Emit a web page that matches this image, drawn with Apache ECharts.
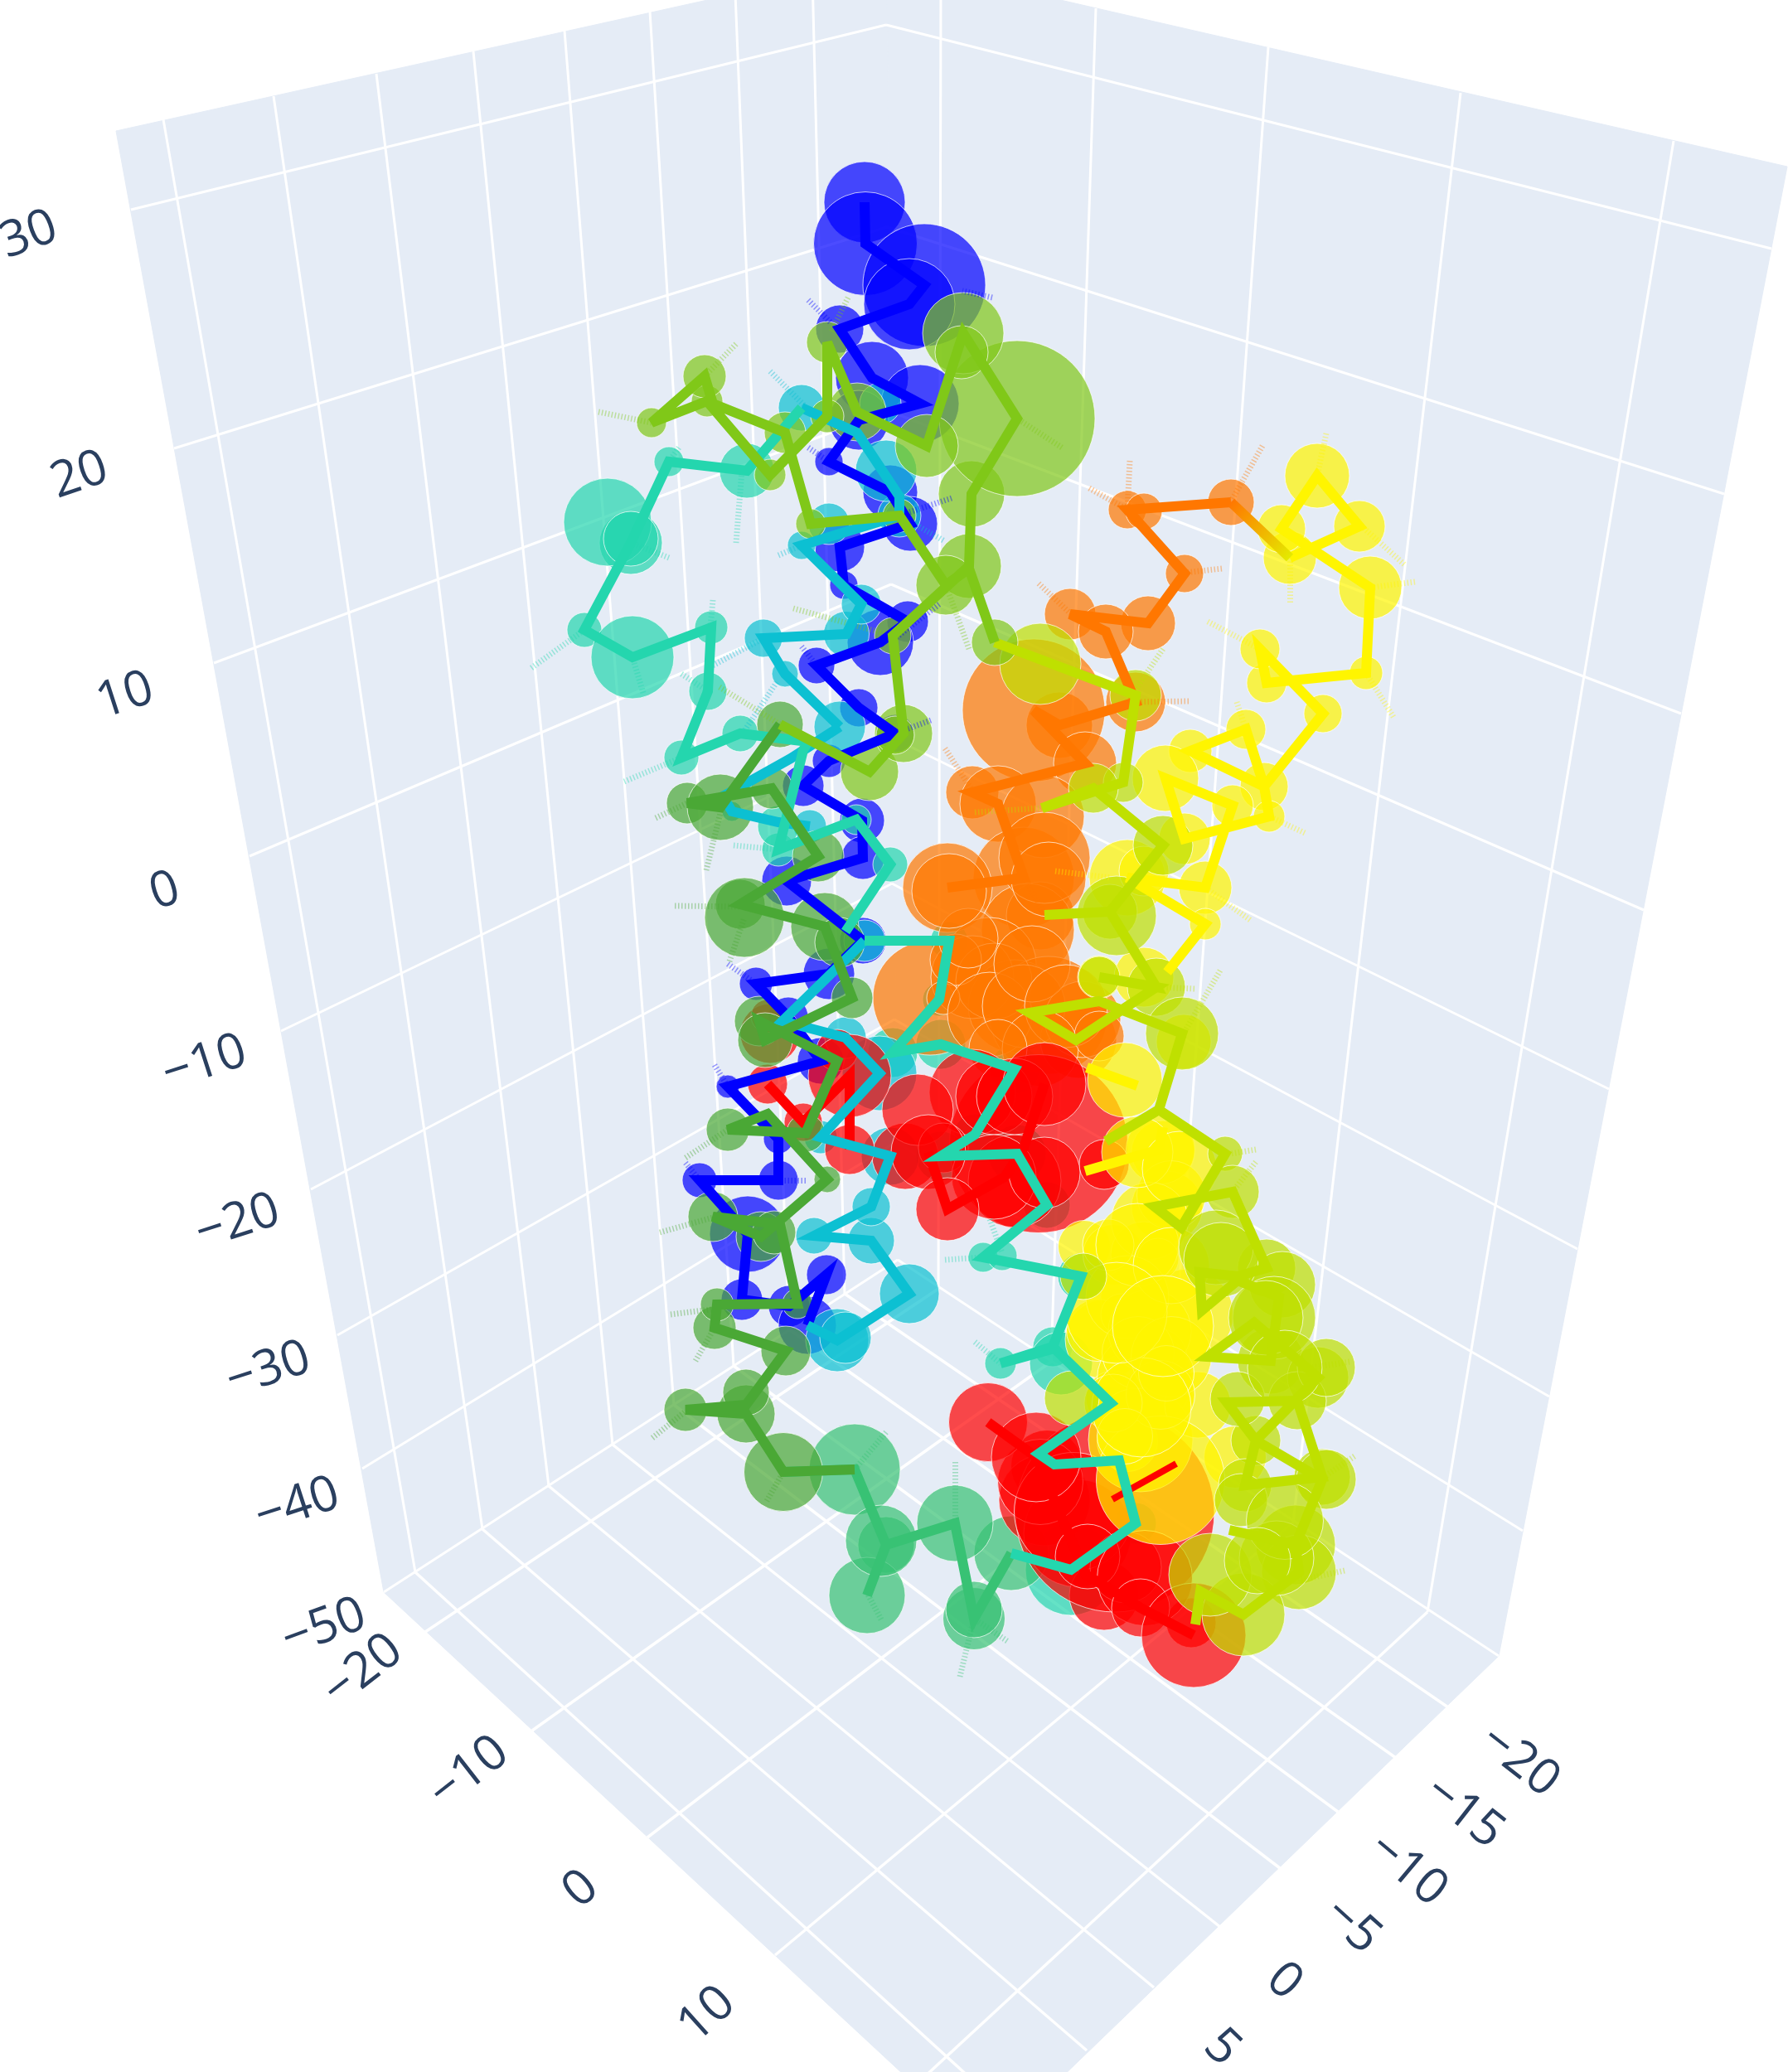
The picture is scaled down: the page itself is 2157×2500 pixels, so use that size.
<!DOCTYPE html>
<html><head><meta charset="utf-8">
<style>html,body{margin:0;padding:0;background:#fff}#c{width:2157px;height:2500px}</style>
<script src="https://cdn.jsdelivr.net/npm/echarts@6/dist/echarts.min.js"></script>
</head><body><div id="c"></div>
<script>
// ---- projected scene values: [screenX, screenY, markerSize]
const paneLeft=[[140,158],[463,1921],[1083,1520],[1070,-48]];
const paneRight=[[1070,-48],[1083,1520],[1808,1998],[2156,201]];
const paneFloor=[[463,1921],[1083,1520],[1808,1998],[1189,2595]];
const zBack=[[1069,30],[1070,274],[1072,496],[1075,705],[1076,890],[1076,1066],[1079,1230],[1081,1378],[1083,1520]];
const zLeft=[[158,253],[210,541],[258,800],[301,1033],[339,1244],[375,1435],[407,1611],[437,1772],[463,1921]];
const zRight=[[2137,300],[2080,596],[2028,861],[1983,1098],[1941,1314],[1903,1507],[1869,1685],[1837,1847],[1808,1998]];
const xLinesFloor=[[[501,1897],[1226,2558]],[[582,1845],[1311,2474]],[[662,1793],[1392,2398]],[[739,1743],[1472,2325]],[[813,1695],[1544,2254]],[[885,1648],[1614,2186]],[[952,1604],[1684,2121]],[[1019,1561],[1747,2060]]];
const yLinesFloor=[[[513,1969],[1132,1555]],[[642,2088],[1268,1643]],[[781,2217],[1409,1736]],[[935,2359],[1560,1837]],[[1087,2532],[1722,1945]]];
const xLinesWall=[[[501,1897],[197,144]],[[582,1845],[330,116]],[[662,1793],[454,89]],[[739,1743],[571,62]],[[813,1695],[681,37]],[[885,1648],[784,14]],[[952,1604],[887,-8]],[[1019,1561],[980,-30]]];
const yLinesWall=[[[1132,1555],[1135,-32]],[[1268,1643],[1322,10]],[[1409,1736],[1530,57]],[[1560,1837],[1762,112]],[[1722,1945],[2019,170]]];

const zTickLabels=[['30',35,284,20],['20',96,574,19],['10',151,840,18],['0',199,1076,18],['\u221210',247,1283,18],['\u221220',287,1475,18],['\u221230',324,1653,18],['\u221240',359,1817,18],['\u221250',391,1964,20]];
const yTickLabels=[['\u221220',438,2016,38],['\u221210',566,2139,38],['0',701,2280,40],['10',853,2431,42]];
const xTickLabels=[['\u221220',1833,2125,-38],['\u221215',1766,2187,-38],['\u221210',1698,2256,-40],['\u22125',1631,2324,-42],['0',1549,2391,-42],['5',1474,2471,-44]];

const blue=[[1043,244,98],[1044,294,125],[1115,344,148],[1097,367,110],[1013,397,58],[1052,456,88],[1110,487,94],[1036,507,72],[1000,557,34],[1074,594,66],[1098,632,66],[1013,660,60],[1018,706,34],[1095,750,50],[1062,775,80],[985,803,44],[1036,854,46],[1080,885,46],[1000,918,40],[969,948,50],[1040,990,54],[1041,1035,52],[949,1063,60],[1041,1135,56],[1000,1175,62],[912,1187,40],[951,1227,48],[990,1280,56],[878,1311,28],[939,1374,36],[939,1424,48],[844,1424,42],[902,1489,92],[895,1568,50],[952,1576,50],[997,1538,48],[974,1599,70]];
const cyanLow=[[974,1599,0],[1010,1617,76],[1097,1561,72],[1051,1497,56],[982,1491,44],[1051,1456,46],[1074,1395,70],[990,1372,40],[1061,1295,90],[1020,1252,50],[944,1232,0],[1028,1150,0],[1043,1135,50]];
const cyanLowExtra=[[1020,1614,62]];
const cyanUp=[[1013,877,62],[947,813,32],[921,770,46],[1021,765,55],[1039,729,48],[967,658,34],[1085,622,52],[1085,599,0],[1034,522,0],[967,492,56]];
const cyanUpExtra=[[1000,632,50],[1069,568,74],[1062,487,50]];
const cyanLink=[[1013,877,0],[954,915,0],[872,961,0],[883,979,24],[939,992,0],[977,997,40]];
const tealUp=[[967,492,0],[901,568,66],[807,557,36],[761,655,76],[705,760,42],[763,793,100],[858,757,40],[854,834,46],[822,914,42],[893,885,44],[975,895,0],[969,905,0],[939,1025,40],[1033,989,36],[1074,1043,42],[1020,1124,0]];
const tealUpExtra=[[733,630,106],[761,650,66],[939,997,50]];
const tealLow=[[1043,1135,0],[1145,1135,45],[1133,1206,40],[1077,1270,60],[1135,1260,60],[1224,1290,60],[1176,1369,50],[1135,1395,60],[1227,1392,70],[1263,1454,56],[1186,1517,36],[1304,1540,56],[1270,1625,48],[1207,1645,38],[1272,1627,0],[1340,1693,40],[1253,1754,0],[1272,1767,0],[1350,1762,40],[1370,1838,50],[1292,1894,110],[1220,1874,0]];
const tealLowExtra=[[1280,1645,76],[1209,1515,36]];
const tealGreen=[[1220,1874,90],[1175,1953,75],[1152,1838,92],[1069,1864,68],[1046,1925,92],[1069,1864,0],[1031,1773,110],[945,1776,0]];
const tealGreenExtra=[[1175,1942,68],[1063,1859,86]];
const green=[[1031,1773,0],[945,1776,95],[900,1706,70],[827,1701,52],[900,1695,0],[948,1630,60],[862,1602,52],[865,1574,40],[962,1573,36],[941,1477,0],[860,1468,60],[918,1492,60],[998,1423,32],[926,1344,0],[878,1363,52],[972,1367,46],[1010,1280,0],[916,1232,60],[923,1255,66],[1028,1204,50],[995,1118,82],[893,1091,60],[987,1033,62],[931,951,50],[829,969,50],[869,974,80],[941,874,56]];
const greenExtra=[[898,1107,96],[1013,1137,60],[934,1487,52],[900,1680,56]];
const lime=[[941,874,0],[1049,931,70],[1090,885,70],[1077,767,44],[1169,683,78],[1172,596,80],[1227,505,188],[1162,402,98],[1118,538,76],[1034,497,70],[998,413,50],[998,502,40],[929,573,38],[853,484,38],[786,510,36],[850,454,52],[860,487,0],[947,522,50],[978,632,36],[1085,622,40],[1141,706,72],[1169,686,0],[1200,775,56]];
const limeExtra=[[1160,425,64],[1080,887,46]];
const yellowLime=[[1200,775,0],[1370,839,62],[1355,944,48],[1257,975,0],[1319,951,60],[1403,1020,72],[1339,1100,66],[1260,1104,0],[1339,1100,0],[1395,1191,70],[1326,1179,50],[1395,1191,0],[1298,1255,0],[1242,1222,0],[1326,1208,0],[1426,1247,88],[1398,1339,0],[1334,1377,0],[1398,1339,0],[1478,1392,42],[1425,1481,0],[1393,1456,0],[1487,1438,64],[1528,1530,70],[1493,1540,0],[1447,1535,0],[1450,1581,0],[1493,1545,0],[1543,1565,0],[1533,1642,80],[1457,1637,0],[1513,1596,0],[1590,1662,74],[1515,1738,60],[1480,1692,0],[1565,1690,70],[1595,1782,68],[1502,1792,64],[1515,1738,0],[1595,1785,0],[1563,1864,96],[1483,1846,0],[1563,1864,0],[1567,1897,90],[1500,1948,100],[1448,1920,0],[1442,1960,0]];
const yellowLimeExtra=[[1347,1105,96],[1255,801,98],[1467,1505,90],[1547,1550,80],[1537,1590,100],[1600,1785,72],[1460,1900,100],[1307,1540,56],[1293,1687,66],[1540,1880,90],[1473,1520,90],[1493,1688,66],[1497,1810,64],[1550,1835,93],[1517,1883,80],[1527,1590,90],[1600,1650,70],[1550,1650,90]];
const orangeYellowLink=[[1485,606],[1556,673]];
const yellow=[[1556,673,64],[1640,635,62],[1589,574,78],[1546,638,58],[1653,709,76],[1648,812,40],[1528,824,48],[1520,783,48],[1596,861,46],[1525,949,58],[1436,906,52],[1503,880,48],[1525,949,0],[1531,985,38],[1429,1012,62],[1406,939,80],[1487,972,50],[1454,1071,64],[1360,1059,92],[1454,1115,38],[1408,1173,0]];
const yellowB=[[1311,1288,0],[1372,1310,0]];
const yellowC=[[1309,1413,0],[1398,1387,0],[1403,1360,0]];
const yellowExtra=[[1380,1051,60],[1326,1179,52],[1380,1179,72],[1357,1303,90],[1428,1257,66],[1403,1390,76],[1408,1456,86],[1308,1504,63],[1343,1514,73],[1380,1514,80],[1400,1387,83],[1413,1442,83],[1333,1616,96],[1433,1586,110],[1363,1565,70],[1397,1638,70],[1403,1687,73],[1343,1687,66],[1360,1739,73],[1324,1605,75],[1381,1664,115],[1376,1737,126],[1490,1758,75],[1445,1695,80],[1400,1786,155],[1387,1473,93],[1397,1519,50],[1353,1586,50],[1387,1606,100],[1360,1565,100],[1373,1632,87],[1413,1637,97],[1400,1683,83],[1343,1693,70],[1407,1657,67],[1357,1733,67],[1377,1698,120],[1372,1390,86],[1423,1410,90],[1337,1502,62],[1372,1502,100],[1413,1527,92],[1347,1584,122],[1403,1600,122]];
const orange=[[1485,606,56],[1360,615,46],[1429,692,46],[1385,752,66],[1291,741,62],[1334,762,66],[1370,847,72],[1278,875,80],[1247,857,172],[1309,921,76],[1173,956,64],[1204,970,92],[1235,1059,122],[1143,1071,108]];
const orangeExtra=[[1380,617,44],[1258,985,100],[1255,1105,82],[1240,1122,112],[1122,1204,138],[1194,1163,112],[1224,1214,112],[1265,1225,142],[1173,1179,100],[1301,1255,92],[1199,1184,92],[1153,1158,62],[1138,1204,40],[1194,1224,102],[1235,1214,100],[1306,1230,92],[1168,1132,72],[1245,1163,92],[1286,1214,100],[1255,1265,92],[1204,1265,70],[1326,1250,60],[1260,1035,110],[1265,1061,90],[1145,1075,90]];
const red=[[926,1308,48],[969,1354,46],[1025,1298,100],[1025,1387,60]];
const redB=[[1120,1390,90],[1143,1459,76],[1212,1420,0],[1235,1385,0],[1260,1308,100]];
const redC=[[1192,1716,95],[1250,1758,108],[1310,1900,0],[1376,1940,70],[1440,1973,126]];
const redD=[[1342,1809,0],[1419,1766,0]];
const redExtra=[[929,1247,72],[1253,1380,215],[1173,1318,104],[1224,1425,112],[1092,1395,80],[1010,1267,50],[926,1226,40],[1332,1405,60],[1263,1769,87],[1260,1810,110],[1300,1850,130],[1332,1925,84],[1437,1958,60],[1345,1825,240],[1199,1323,92],[1107,1339,86],[1224,1323,92],[1138,1385,60],[1199,1420,102],[1260,1415,86],[1255,1788,103],[1295,1824,143],[1358,1891,86],[1312,1878,78],[1381,1904,115]];

// short hatched side branches: [x1,y1,x2,y2]
const spursBlue=[[975,362,1003,390],[1197,359,1161,351],[975,540,1000,557],[1148,601,1085,622],[1133,729,1080,770],[967,780,985,803],[1123,869,1080,885],[878,1163,912,1187],[862,1285,878,1311],[827,1403,844,1424],[972,1424,939,1424]];
const spursCyan=[[929,448,970,489],[939,670,967,658],[1138,652,1085,622],[860,803,921,770],[937,823,896,885]];
const spursTeal=[[888,655,895,568],[819,540,807,557],[807,673,761,655],[641,806,705,760],[860,724,857,757],[776,836,763,793],[822,813,854,834],[753,943,822,914],[885,1020,939,1025],[1140,1520,1186,1517],[1176,1619,1207,1645],[1194,1471,1209,1512]];
const spursTealGreen=[[1152,1764,1152,1835],[1158,2023,1175,1953],[1215,1980,1175,1953],[1069,1728,1031,1773],[1063,1954,1046,1922]];
const spursGreen=[[791,987,829,969],[852,1050,870,977],[814,1093,893,1094],[880,1160,898,1107],[827,1397,878,1363],[796,1487,860,1469],[809,1586,865,1579],[839,1642,862,1602],[925,1811,945,1776],[787,1735,827,1703]];
const spursLime=[[1023,359,1003,400],[888,415,850,454],[722,497,786,510],[1281,540,1227,505],[1169,783,1141,706],[957,734,1077,767],[868,829,941,874]];
const spursYellowLime=[[1403,783,1370,832],[1176,980,1258,975],[1472,1171,1426,1250],[1441,1193,1395,1191],[1515,1387,1485,1392],[1515,1402,1487,1438],[1628,1643,1583,1650],[1622,1895,1567,1907],[1634,1757,1600,1780]];
const spursYellow=[[1600,523,1589,574],[1707,702,1653,709],[1556,727,1556,676],[1694,681,1643,635],[1457,750,1520,783],[1681,865,1648,812],[1492,847,1503,880],[1574,1005,1531,985],[1273,1051,1340,1059],[1508,1110,1454,1071]];
const spursOrange=[[1523,538,1485,605],[1363,556,1360,615],[1314,589,1360,615],[1474,686,1429,691],[1253,704,1291,740],[1434,846,1370,847],[1140,903,1173,954],[1240,1066,1260,1104]];

const C={blue:'#0000ff',cyan:'#0cc0d2',teal:'#24d6ae',tealGreen:'#38c274',green:'#4aa835',lime:'#80c818',yellowLime:'#bfe000',yellow:'#fff500',orange:'#ff7700',red:'#ff0000'};

// ---- series building
const series=[];
series.push({type:'custom',coordinateSystem:'cartesian2d',silent:true,z:1,clip:false,
  data:[0,1,2],encode:{x:0,y:0},
  renderItem:(p,api)=>{const q=[paneLeft,paneRight,paneFloor][p.dataIndex];
    return {type:'polygon',shape:{points:q.map(a=>api.coord(a))},style:{fill:'#E5ECF6',stroke:'#E5ECF6',lineWidth:1}};}});
function gridLines(segs,w){series.push({type:'lines',coordinateSystem:'cartesian2d',polyline:false,silent:true,z:2,
  data:segs.map(s=>({coords:s})),lineStyle:{color:'#fff',width:w,opacity:1,cap:'butt'},effect:{show:false}});}
gridLines(zLeft.map((p,i)=>[p,zBack[i]]),3);
gridLines(zRight.map((p,i)=>[zBack[i],p]),3);
gridLines(xLinesFloor,3.5);gridLines(yLinesFloor,3.5);
gridLines(xLinesWall,3);gridLines(yLinesWall,3);

function marks(pts,color,z){series.push({type:'scatter',silent:true,z,clip:false,
  data:pts.filter(p=>p[2]>0),symbolSize:v=>v[2],
  itemStyle:{color,opacity:0.7,borderColor:'#fff',borderWidth:1}});}
[[tealLow,C.teal],[tealLowExtra,C.teal],[blue,C.blue],[orange,C.orange],[orangeExtra,C.orange],[cyanLow,C.cyan],[cyanLowExtra,C.cyan],[cyanUp,C.cyan],[cyanUpExtra,C.cyan],[cyanLink,C.cyan],
 [tealUp,C.teal],[tealUpExtra,C.teal],[tealGreen,C.tealGreen],[tealGreenExtra,C.tealGreen],
 [redExtra,C.red],[red,C.red],[redB,C.red],[redC,C.red],[yellow,C.yellow],[yellowExtra,C.yellow],[green,C.green],[greenExtra,C.green],
 [yellowLime,C.yellowLime],[yellowLimeExtra,C.yellowLime],[lime,C.lime],[limeExtra,C.lime]
].forEach((m,i)=>marks(m[0],m[1],5+i));

function spurs(list,color){series.push({type:'lines',coordinateSystem:'cartesian2d',silent:true,z:35,
  data:list.map(s=>({coords:[[s[0],s[1]],[s[2],s[3]]]})),
  lineStyle:{color,width:7,opacity:0.4,type:[1.5,2.5],cap:'butt'}});}
spurs(spursBlue,C.blue);spurs(spursCyan,C.cyan);spurs(spursTeal,C.teal);spurs(spursTealGreen,C.tealGreen);spurs(spursGreen,C.green);
spurs(spursLime,C.lime);spurs(spursYellowLime,C.yellowLime);spurs(spursYellow,C.yellow);spurs(spursOrange,C.orange);

function strand(pts,color,z,w){series.push({type:'lines',coordinateSystem:'cartesian2d',polyline:true,silent:true,z,
  data:[{coords:pts.map(p=>[p[0],p[1]])}],
  lineStyle:{color,width:w||12,opacity:1,join:'miter',cap:'butt',miterLimit:4}});}
[[red,C.red],[redB,C.red],[redC,C.red],[redD,C.red,8],[orange,C.orange],[blue,C.blue],[yellow,C.yellow],[yellowB,C.yellow],[yellowC,C.yellow],
 [orangeYellowLink,new echarts.graphic.LinearGradient(orangeYellowLink[0][0],orangeYellowLink[0][1],orangeYellowLink[1][0],orangeYellowLink[1][1],[{offset:0,color:C.orange},{offset:1,color:'#e4ea00'}],true)],
 [cyanLow,C.cyan],[cyanUp,C.cyan],[cyanLink,C.cyan],[tealUp,C.teal],[tealGreen,C.tealGreen],[green,C.green],[yellowLime,C.yellowLime],[lime,C.lime],[tealLow,C.teal]
].forEach((s,i)=>strand(s[0],s[1],40+i,s[2]));

const labels=[...zTickLabels,...yTickLabels,...xTickLabels];
series.push({type:'scatter',silent:true,z:80,clip:false,symbolSize:1,itemStyle:{color:'rgba(0,0,0,0)'},
  data:labels.map(l=>({value:[l[1],l[2]],label:{show:true,position:'inside',formatter:l[0],rotate:l[3],
     fontFamily:'"Open Sans"',fontSize:60,color:'#2a3f5f',opacity:1}}))});

const chart=echarts.init(document.getElementById('c'),null,{renderer:'canvas'});
chart.setOption({animation:false,backgroundColor:'#fff',
  grid:{left:0,right:0,top:0,bottom:0},
  xAxis:{type:'value',min:0,max:2157,show:false},
  yAxis:{type:'value',min:0,max:2500,inverse:true,show:false},
  series});
</script></body></html>
